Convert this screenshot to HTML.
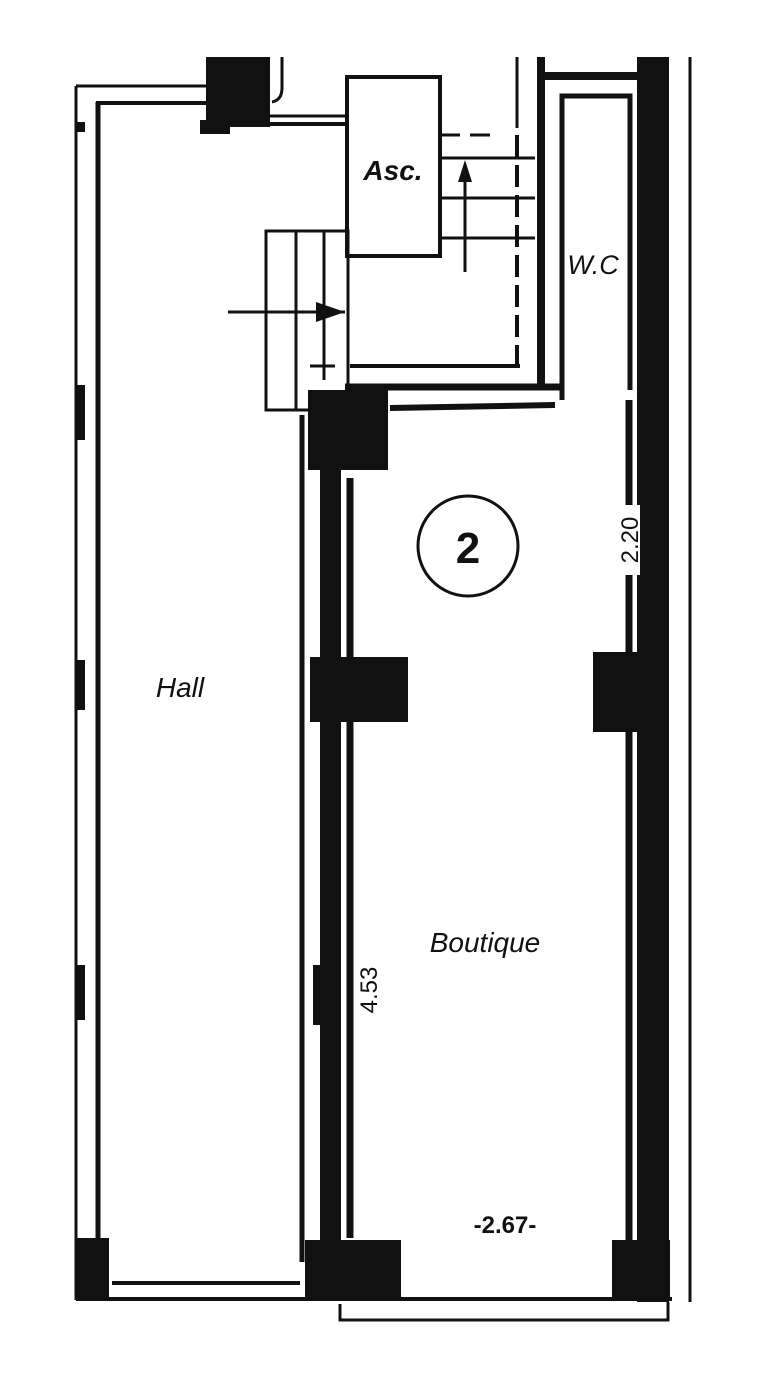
<!DOCTYPE html>
<html><head><meta charset="utf-8"><style>
html,body{margin:0;padding:0;background:#fff;}
svg{display:block;}
text{font-family:"Liberation Sans",sans-serif;fill:#111;}
</style></head><body>
<svg width="768" height="1384" viewBox="0 0 768 1384" xmlns="http://www.w3.org/2000/svg">
<g stroke="#111" fill="none">
<line x1="76" y1="86" x2="76" y2="1300" stroke-width="3"/>
<line x1="98" y1="102" x2="98" y2="1245" stroke-width="5"/>
<line x1="76" y1="86" x2="212" y2="86" stroke-width="3"/>
<line x1="96" y1="103" x2="210" y2="103" stroke-width="4"/>
<path d="M282 57 L282 88 Q282 100 272 102" stroke-width="3"/>
<line x1="270" y1="116" x2="346" y2="116" stroke-width="3"/>
<line x1="270" y1="124" x2="346" y2="124" stroke-width="4"/>
<rect x="347" y="77" width="93" height="179" stroke-width="4"/>
<line x1="440" y1="135" x2="500" y2="135" stroke-width="3" stroke-dasharray="20 10"/>
<line x1="440" y1="158" x2="535" y2="158" stroke-width="3"/>
<line x1="440" y1="198" x2="535" y2="198" stroke-width="3"/>
<line x1="440" y1="238" x2="535" y2="238" stroke-width="3"/>
<line x1="517" y1="57" x2="517" y2="128" stroke-width="3"/>
<line x1="517" y1="135" x2="517" y2="368" stroke-width="4" stroke-dasharray="22 8"/>
<line x1="465" y1="272" x2="465" y2="165" stroke-width="3"/>
<line x1="541" y1="57" x2="541" y2="388" stroke-width="8"/>
<line x1="537" y1="76" x2="650" y2="76" stroke-width="8"/>
<path d="M562 400 L562 96 L630 96 L630 390" stroke-width="5"/>
<line x1="690" y1="57" x2="690" y2="1302" stroke-width="3"/>
<rect x="266" y="231" width="82" height="179" stroke-width="3"/>
<line x1="296" y1="231" x2="296" y2="410" stroke-width="3"/>
<line x1="324" y1="231" x2="324" y2="380" stroke-width="3"/>
<line x1="228" y1="312" x2="345" y2="312" stroke-width="3"/>
<line x1="310" y1="366" x2="335" y2="366" stroke-width="3"/>
<line x1="350" y1="366" x2="520" y2="366" stroke-width="4"/>
<line x1="345" y1="387" x2="560" y2="387" stroke-width="7"/>
<line x1="390" y1="408" x2="555" y2="405" stroke-width="6"/>
<line x1="302" y1="415" x2="302" y2="1262" stroke-width="5"/>
<line x1="350" y1="478" x2="350" y2="1238" stroke-width="7"/>
<line x1="629" y1="400" x2="629" y2="1240" stroke-width="7"/>
<line x1="112" y1="1283" x2="300" y2="1283" stroke-width="4"/>
<line x1="76" y1="1299" x2="672" y2="1299" stroke-width="4"/>
<path d="M340 1304 L340 1320 L668 1320 L668 1302" stroke-width="3"/>
</g>
<g fill="#111">
<rect x="206" y="57" width="64" height="70"/>
<rect x="200" y="120" width="30" height="14"/>
<polygon points="465,160 458,182 472,182"/>
<polygon points="345,312 316,302 316,322"/>
<rect x="308" y="390" width="80" height="80"/>
<rect x="320" y="390" width="21" height="910"/>
<rect x="310" y="657" width="98" height="65"/>
<rect x="593" y="652" width="50" height="80"/>
<rect x="637" y="57" width="32" height="1245"/>
<rect x="305" y="1240" width="96" height="60"/>
<rect x="612" y="1240" width="58" height="60"/>
<rect x="75" y="1238" width="34" height="62"/>
<rect x="75" y="385" width="10" height="55"/>
<rect x="75" y="660" width="10" height="50"/>
<rect x="75" y="965" width="10" height="55"/>
<rect x="75" y="122" width="10" height="10"/>
<rect x="313" y="965" width="10" height="60"/>
</g>
<circle cx="468" cy="546" r="50" fill="none" stroke="#111" stroke-width="3"/>
<text x="468" y="563" font-size="44" font-weight="bold" text-anchor="middle">2</text>
<text x="393" y="180" font-size="28" font-style="italic" font-weight="bold" text-anchor="middle">Asc.</text>
<text x="593" y="274" font-size="27" font-style="italic" text-anchor="middle">W.C</text>
<text x="180" y="697" font-size="28" font-style="italic" text-anchor="middle">Hall</text>
<text x="485" y="952" font-size="28" font-style="italic" text-anchor="middle">Boutique</text>
<text x="505" y="1233" font-size="24" font-weight="bold" text-anchor="middle">-2.67-</text>
<text transform="translate(377,990) rotate(-90)" font-size="24" text-anchor="middle">4.53</text>
<rect x="618" y="505" width="22" height="70" fill="#fff"/>
<text transform="translate(638,540) rotate(-90)" font-size="24" text-anchor="middle">2.20</text>
</svg>
</body></html>
